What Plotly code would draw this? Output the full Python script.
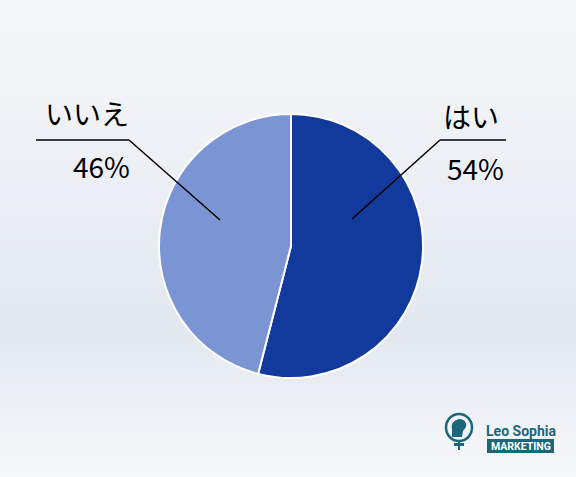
import plotly.graph_objects as go

categories = ["はい", "いいえ"]
values = [54, 46]
colors = ["#123a9c", "#7b94d3"]

W, H = 576, 477
def px(x): return x / W
def py(y): return 1 - y / H

total = sum(values)
pcts = [f"{round(v / total * 100)}%" for v in values]

fig = go.Figure()
fig.add_trace(go.Pie(
    labels=categories, values=values, sort=False, direction="clockwise", rotation=0,
    marker=dict(colors=colors, line=dict(color="white", width=2)),
    textinfo="none", hoverinfo="label+percent", showlegend=False,
    domain=dict(x=[px(291 - 132), px(291 + 132)], y=[py(246 + 132), py(246 - 132)]),
))

shapes = []
# background gradient bands
def lerp(a, b, t): return tuple(round(a[i] + (b[i] - a[i]) * t) for i in range(3))
top, mid, bot = (246, 247, 249), (227, 232, 240), (247, 248, 250)
step = 6
for y0 in range(0, H, step):
    yc = y0 + step / 2
    if yc <= 330:
        c = lerp(top, mid, yc / 330)
    else:
        c = lerp(mid, bot, (yc - 330) / (H - 330))
    shapes.append(dict(type="rect", xref="paper", yref="paper", x0=0, x1=1,
                       y0=py(min(y0 + step + 1, H)), y1=py(y0), layer="below",
                       fillcolor=f"rgb{c}", line=dict(width=0)))

# leader lines
line_style = dict(color="black", width=1.5)
for pts in ([(352, 219), (440, 140), (506, 140)], [(220, 220), (129, 140), (36, 140)]):
    for (xa, ya), (xb, yb) in zip(pts[:-1], pts[1:]):
        shapes.append(dict(type="line", xref="paper", yref="paper",
                           x0=px(xa), y0=py(ya), x1=px(xb), y1=py(yb), line=line_style))

# logo
teal = "#1b6779"
shapes.append(dict(type="circle", xref="paper", yref="paper",
                   x0=px(446), x1=px(472), y0=py(441), y1=py(414),
                   line=dict(color=teal, width=2.5)))
shapes.append(dict(type="path", xref="paper", yref="paper",
                   path=f"M {px(452)},{py(437)} L {px(452)},{py(430)} Q {px(450)},{py(421)} {px(459)},{py(419)} "
                        f"Q {px(467)},{py(419)} {px(466)},{py(427)} L {px(463)},{py(431)} L {px(462)},{py(437)} Z",
                   fillcolor=teal, line=dict(width=0)))
shapes.append(dict(type="rect", xref="paper", yref="paper",
                   x0=px(454), x1=px(464), y0=py(446), y1=py(443), fillcolor=teal, line=dict(width=0)))
shapes.append(dict(type="rect", xref="paper", yref="paper",
                   x0=px(458), x1=px(460), y0=py(450), y1=py(441), fillcolor=teal, line=dict(width=0)))
shapes.append(dict(type="rect", xref="paper", yref="paper",
                   x0=px(487), x1=px(554), y0=py(453), y1=py(439), fillcolor=teal, line=dict(width=0)))

font_jp = "Noto Sans CJK JP, Noto Sans, sans-serif"
annotations = [
    dict(text=categories[0], x=px(471), y=py(116)),
    dict(text=pcts[0], x=px(475), y=py(168)),
    dict(text=categories[1], x=px(87), y=py(113)),
    dict(text=pcts[1], x=px(101), y=py(166)),
]
for a in annotations:
    a.update(xref="paper", yref="paper", showarrow=False, xanchor="center", yanchor="middle",
             font=dict(family=font_jp, size=28, color="black"))
annotations.append(dict(text="<b>Leo Sophia</b>", x=px(521), y=py(431), xref="paper", yref="paper",
                        showarrow=False, xanchor="center", yanchor="middle",
                        font=dict(family="Roboto, sans-serif", size=14, color=teal)))
annotations.append(dict(text="<b>MARKETING</b>", x=px(520.5), y=py(446), xref="paper", yref="paper",
                        showarrow=False, xanchor="center", yanchor="middle",
                        font=dict(family="Roboto, sans-serif", size=10.5, color="white")))

fig.update_layout(
    width=W, height=H, margin=dict(l=0, r=0, t=0, b=0),
    paper_bgcolor="#f0f3f7", plot_bgcolor="rgba(0,0,0,0)",
    shapes=shapes, annotations=annotations,
)
fig.write_html("out.html", config={"displayModeBar": False},
               post_script="document.body.style.margin='0';document.body.style.overflow='hidden';")
